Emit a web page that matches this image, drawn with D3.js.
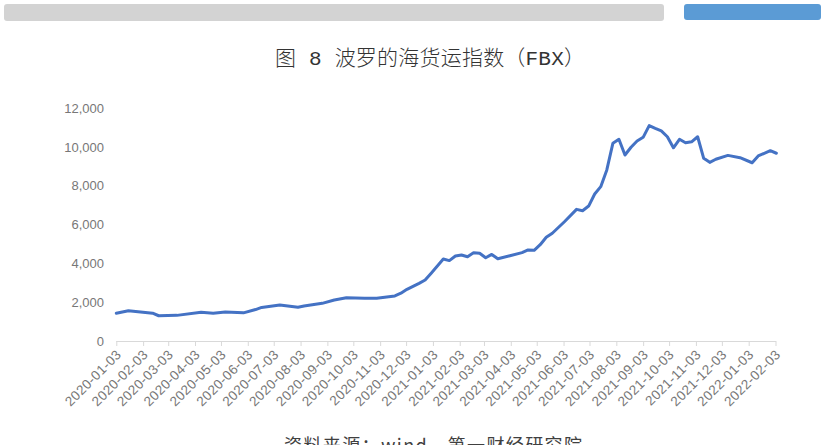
<!DOCTYPE html>
<html>
<head>
<meta charset="utf-8">
<script src="https://cdn.jsdelivr.net/npm/d3@7/dist/d3.min.js"></script>
<style>
  html, body { margin: 0; padding: 0; background: #fff; }
  svg { display: block; }
</style>
</head>
<body>
<svg id="chart" width="823" height="445"></svg>
<script>
// ---- data ----
const title = "图 8 波罗的海货运指数（FBX）";
const sourceText = "资料来源：wind，第一财经研究院";
const dates = [
  "2020-01-03","2020-01-17","2020-01-31","2020-02-14","2020-02-21","2020-03-13",
  "2020-04-10","2020-04-24","2020-05-08","2020-05-29","2020-06-12","2020-06-19",
  "2020-07-10","2020-07-31","2020-08-07","2020-08-28","2020-09-11","2020-09-25",
  "2020-10-16","2020-10-30","2020-11-20","2020-11-27","2020-12-04","2020-12-18",
  "2020-12-25","2021-01-01","2021-01-15","2021-01-22","2021-01-29","2021-02-05",
  "2021-02-12","2021-02-19","2021-02-26","2021-03-05","2021-03-12","2021-03-19",
  "2021-04-02","2021-04-16","2021-04-23","2021-04-30","2021-05-07","2021-05-14",
  "2021-05-21","2021-06-04","2021-06-18","2021-06-25","2021-07-02","2021-07-09",
  "2021-07-16","2021-07-23","2021-07-30","2021-08-06","2021-08-13","2021-08-20",
  "2021-08-27","2021-09-03","2021-09-10","2021-09-17","2021-09-24","2021-10-01",
  "2021-10-08","2021-10-15","2021-10-22","2021-10-29","2021-11-05","2021-11-12",
  "2021-11-19","2021-11-26","2021-12-10","2021-12-24","2022-01-07","2022-01-14",
  "2022-01-28","2022-02-04"
];
const values = [
  1430,1560,1490,1430,1300,1320,
  1480,1430,1490,1450,1620,1730,
  1855,1735,1800,1940,2110,2230,
  2200,2200,2320,2460,2660,2970,
  3140,3490,4220,4140,4380,4430,
  4340,4550,4520,4290,4460,4240,
  4390,4550,4690,4670,4960,5340,
  5550,6140,6780,6710,6950,7570,
  7950,8810,10180,10390,9580,9980,
  10300,10490,11090,10950,10820,10520,
  9950,10390,10210,10260,10520,9410,
  9200,9360,9560,9440,9180,9530,
  9800,9670
];
const yTicks = [0,2000,4000,6000,8000,10000,12000];
const xTickLabels = [
  "2020-01-03","2020-02-03","2020-03-03","2020-04-03","2020-05-03","2020-06-03",
  "2020-07-03","2020-08-03","2020-09-03","2020-10-03","2020-11-03","2020-12-03",
  "2021-01-03","2021-02-03","2021-03-03","2021-04-03","2021-05-03","2021-06-03",
  "2021-07-03","2021-08-03","2021-09-03","2021-10-03","2021-11-03","2021-12-03",
  "2022-01-03","2022-02-03"
];

// ---- drawing ----
const parse = d3.utcParse("%Y-%m-%d");
const svg = d3.select("#chart");

// top decorative bars
svg.append("rect").attr("x", 4).attr("y", 4).attr("width", 660).attr("height", 17)
  .attr("rx", 3).attr("fill", "#d3d3d3");
svg.append("rect").attr("x", 684).attr("y", 4).attr("width", 137).attr("height", 16)
  .attr("rx", 3).attr("fill", "#5b9bd5");

// title
svg.append("text").attr("x", 275).attr("y", 65)
  .attr("font-family", "'Liberation Mono', 'Noto Sans CJK SC', monospace")
  .attr("font-size", 21).attr("font-weight", 300)
  .attr("textLength", 310).attr("lengthAdjust", "spacing")
  .attr("fill", "#333").text(title);

const x = d3.scaleUtc()
  .domain([parse(xTickLabels[0]), parse(xTickLabels[xTickLabels.length - 1])])
  .range([116.3, 775.5]);
const y = d3.scaleLinear().domain([0, 12000]).range([341, 108]);

// y axis labels
const yAxis = d3.axisLeft(y).tickValues(yTicks).tickSize(0).tickPadding(0)
  .tickFormat(d3.format(","));
const gy = svg.append("g").attr("transform", "translate(104,0)").call(yAxis);
gy.select(".domain").remove();
gy.selectAll("text").attr("font-family", "'Liberation Sans', Arial, sans-serif")
  .attr("font-size", 13).attr("fill", "#777");

// x axis
const xAxis = d3.axisBottom(x).tickValues(xTickLabels.map(parse)).tickSize(5)
  .tickSizeOuter(0).tickFormat(d3.utcFormat("%Y-%m-%d"));
const gx = svg.append("g").attr("transform", "translate(0,341)").call(xAxis);
gx.select(".domain").attr("stroke", "#d9d9d9").attr("d", "M116.3,0.5H776");
gx.selectAll(".tick line").attr("stroke", "#d9d9d9");
gx.selectAll("text")
  .attr("font-family", "'Liberation Sans', Arial, sans-serif")
  .attr("font-size", 13.5).attr("fill", "#777")
  .attr("letter-spacing", 0.4)
  .attr("text-anchor", "end")
  .attr("transform", "translate(2,11) rotate(-45)")
  .attr("dy", "0.35em").attr("y", 0).attr("x", 0);

// line
const data = dates.map((d, i) => ({ date: parse(d), value: values[i] }));
const line = d3.line().x(d => x(d.date)).y(d => y(d.value));
svg.append("path").datum(data).attr("d", line)
  .attr("fill", "none").attr("stroke", "#4472c4").attr("stroke-width", 3)
  .attr("stroke-linejoin", "round").attr("stroke-linecap", "round");

// source (cut off at bottom, as in the reference)
svg.append("text").attr("x", 284).attr("y", 452)
  .attr("font-family", "'Noto Sans CJK SC', sans-serif").attr("font-size", 18)
  .attr("fill", "#404040").attr("textLength", 298).attr("lengthAdjust", "spacing")
  .text(sourceText);
</script>
</body>
</html>
